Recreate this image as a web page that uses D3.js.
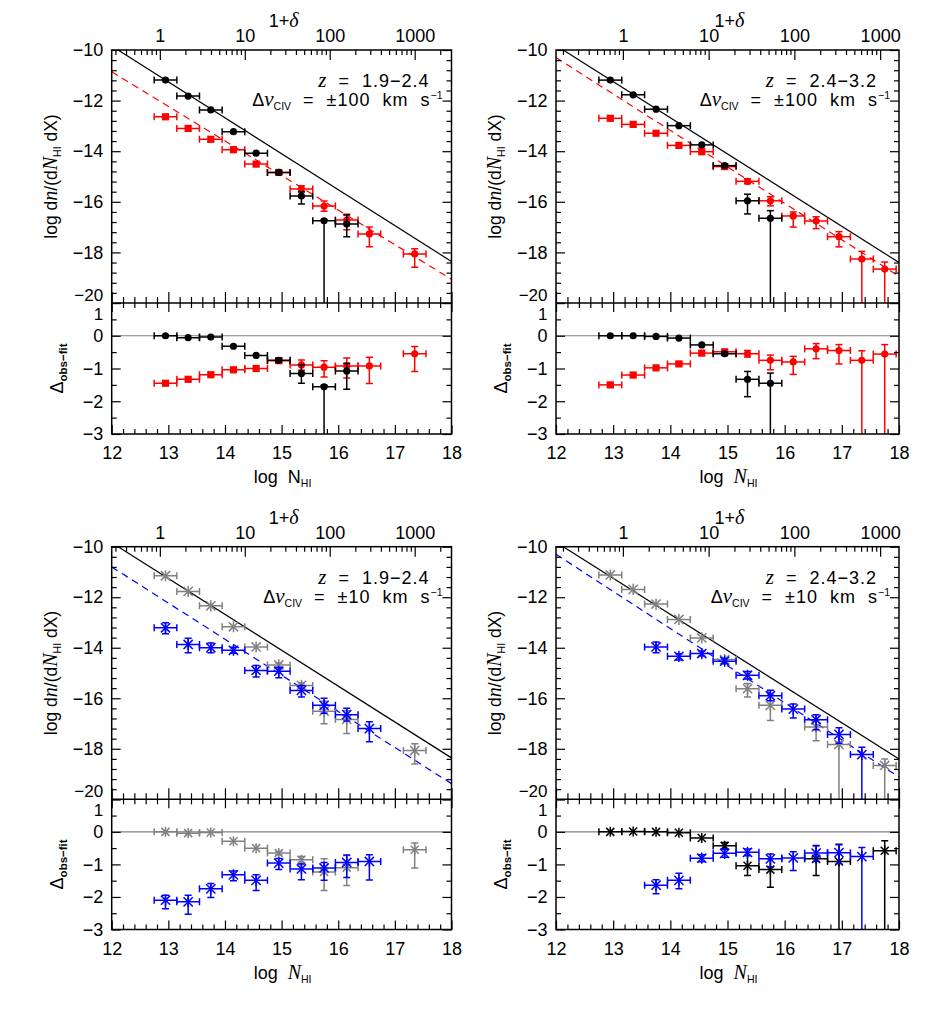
<!DOCTYPE html>
<html><head><meta charset="utf-8">
<script src="https://cdn.jsdelivr.net/npm/d3@7"></script>
<style>body{margin:0;background:#fff}svg{display:block}</style>
</head><body><svg id="c" width="926" height="1011"></svg>
<script>
// ---------- tick label arrays ----------
const xTicks = [12, 13, 14, 15, 16, 17, 18];
const deltaTicks = [1, 10, 100, 1000];
const mainYTicks = [-20, -18, -16, -14, -12, -10];
const residYTicks = [-3, -2, -1, 0, 1];

// ---------- fit lines: [value at log N = 12, slope] ----------
const fitLow = [-9.84, -1.42];      // z = 1.9-2.4 power law (solid)
const fitHigh = [-9.82, -1.43];     // z = 2.4-3.2 power law (solid)
const dashTL = [-10.86, -1.367];    // red dashed, ±100, z 1.9-2.4
const dashTR = [-10.30, -1.44];     // red dashed, ±100, z 2.4-3.2
const dashBL = [-10.80, -1.43];     // blue dashed, ±10, z 1.9-2.4
const dashBR = [-10.30, -1.47];     // blue dashed, ±10, z 2.4-3.2
// 1+delta axis: log N = a + 1.5 log(1+delta)
const deltaZeroLow = 12.85, deltaZeroHigh = 13.17;

// ---------- data: [log N_HI, value, err up, err down] (9 = off the panel) ----------
const tlMainBlack = [[12.95,-11.19,0,0],[13.35,-11.82,0,0],[13.75,-12.37,0,0],[14.15,-13.23,0,0],[14.55,-14.08,0,0],[14.95,-14.84,0.06,0.06],[15.35,-15.77,0.17,0.32],[15.75,-16.75,0.05,9],[16.15,-16.88,0.36,0.5]];
const tlMainRed = [[12.95,-12.64,0,0],[13.35,-13.10,0,0],[13.75,-13.53,0,0],[14.15,-13.94,0,0],[14.55,-14.51,0,0],[14.95,-14.84,0.08,0.08],[15.35,-15.49,0.12,0.12],[15.75,-16.17,0.2,0.2],[16.15,-16.72,0.23,0.38],[16.55,-17.27,0.27,0.51],[17.35,-18.06,0.2,0.53]];
const tlResBlack = [[12.95,0,0,0],[13.35,-0.06,0,0],[13.75,-0.04,0,0],[14.15,-0.32,0,0],[14.55,-0.6,0,0],[14.95,-0.75,0.06,0.06],[15.35,-1.15,0.26,0.3],[15.75,-1.56,0.05,9],[16.15,-1.08,0.24,0.55]];
const tlResRed = [[12.95,-1.45,0.04,0.04],[13.35,-1.33,0,0],[13.75,-1.19,0,0],[14.15,-1.04,0,0],[14.55,-1.0,0,0],[14.95,-0.76,0.08,0.08],[15.35,-0.89,0.15,0.16],[15.75,-0.96,0.2,0.3],[16.15,-0.92,0.24,0.37],[16.55,-0.92,0.26,0.54],[17.35,-0.55,0.22,0.54]];

const trMainBlack = [[12.95,-11.19,0,0],[13.35,-11.77,0,0],[13.75,-12.34,0,0],[14.15,-12.99,0,0],[14.55,-13.75,0,0],[14.95,-14.57,0.06,0.06],[15.35,-15.96,0.26,0.52],[15.75,-16.65,0.3,9]];
const trMainRed = [[12.95,-12.70,0,0],[13.35,-12.94,0,0],[13.75,-13.29,0,0],[14.15,-13.77,0,0],[14.55,-14.02,0,0],[14.95,-14.61,0.05,0.05],[15.35,-15.19,0.1,0.1],[15.75,-15.96,0.16,0.2],[16.15,-16.56,0.16,0.44],[16.55,-16.76,0.17,0.3],[16.95,-17.38,0.2,0.4],[17.35,-18.26,0.3,9],[17.75,-18.66,0.28,9]];
const trResBlack = [[12.95,0,0,0],[13.35,0,0,0],[13.75,-0.02,0,0],[14.15,-0.07,0,0],[14.55,-0.28,0,0],[14.95,-0.55,0.05,0.05],[15.35,-1.33,0.24,0.53],[15.75,-1.45,0.31,9]];
const trResRed = [[12.95,-1.5,0.05,0.05],[13.35,-1.2,0,0],[13.75,-0.98,0,0],[14.15,-0.86,0.05,0.05],[14.55,-0.53,0,0],[14.95,-0.49,0.06,0.06],[15.35,-0.55,0.1,0.1],[15.75,-0.75,0.16,0.29],[16.15,-0.8,0.17,0.38],[16.55,-0.4,0.16,0.3],[16.95,-0.45,0.18,0.41],[17.35,-0.75,0.29,9],[17.75,-0.56,0.29,9]];

const blMainGray = [[12.95,-11.15,0,0],[13.35,-11.77,0,0],[13.75,-12.34,0,0],[14.15,-13.17,0,0],[14.55,-13.97,0,0],[14.95,-14.68,0.08,0.08],[15.35,-15.49,0.1,0.1],[15.75,-16.51,0.39,0.5],[16.15,-16.84,0.35,0.56],[17.35,-18.07,0.27,0.53]];
const blMainBlue = [[12.95,-13.21,0.2,0.24],[13.35,-13.87,0.25,0.33],[13.75,-14.0,0.19,0.2],[14.15,-14.1,0.12,0.12],[14.55,-14.9,0.2,0.26],[14.95,-14.93,0.14,0.26],[15.35,-15.69,0.2,0.26],[15.75,-16.28,0.28,0.31],[16.15,-16.65,0.25,0.25],[16.55,-17.2,0.27,0.52]];
const blResGray = [[12.95,0,0,0],[13.35,-0.04,0,0],[13.75,-0.02,0,0],[14.15,-0.29,0,0],[14.55,-0.5,0,0],[14.95,-0.65,0.05,0.05],[15.35,-0.86,0.1,0.1],[15.75,-1.23,0.4,0.57],[16.15,-1.1,0.37,0.55],[17.35,-0.55,0.21,0.56]];
const blResBlue = [[12.95,-2.1,0.15,0.26],[13.35,-2.15,0.2,0.38],[13.75,-1.75,0.16,0.27],[14.15,-1.32,0.12,0.18],[14.55,-1.49,0.17,0.31],[14.95,-0.96,0.14,0.2],[15.35,-1.14,0.15,0.33],[15.75,-1.11,0.17,0.38],[16.15,-0.94,0.23,0.46],[16.55,-0.91,0.21,0.57]];

const brMainGray = [[12.95,-11.12,0,0],[13.35,-11.69,0,0],[13.75,-12.27,0,0],[14.15,-12.88,0,0],[14.55,-13.61,0,0],[14.95,-14.47,0.05,0.05],[15.35,-15.62,0.2,0.33],[15.75,-16.28,0.42,0.6],[16.55,-17.14,0.26,0.54],[16.95,-17.83,0.1,9],[17.75,-18.66,0.26,9]];
const brMainBlue = [[13.75,-13.97,0.2,0.23],[14.15,-14.34,0.1,0.15],[14.55,-14.23,0.1,0.1],[14.95,-14.53,0.1,0.1],[15.35,-15.09,0.15,0.15],[15.75,-15.9,0.22,0.2],[16.15,-16.43,0.2,0.35],[16.55,-16.85,0.2,0.4],[16.95,-17.43,0.26,0.35],[17.35,-18.23,0.29,9]];
const brResBlack = [[12.95,0,0,0],[13.35,0.01,0,0],[13.75,0,0,0],[14.15,-0.03,0,0],[14.55,-0.19,0,0],[14.95,-0.43,0.1,0.1],[15.35,-1.04,0.31,0.3],[15.75,-1.16,0.33,0.54],[16.55,-0.83,0.41,0.51],[16.95,-0.91,0.53,9],[17.75,-0.58,0.31,9]];
const brResBlue = [[13.75,-1.64,0.17,0.26],[14.15,-1.49,0.22,0.26],[14.55,-0.81,0.11,0.11],[14.95,-0.66,0.13,0.12],[15.35,-0.63,0.1,0.1],[15.75,-0.83,0.15,0.24],[16.15,-0.8,0.19,0.39],[16.55,-0.65,0.22,0.26],[16.95,-0.64,0.24,0.33],[17.35,-0.76,0.28,9]];

// ---------- drawing ----------
const SANS = '"Liberation Sans", Arial, Helvetica, sans-serif';
const SERIF = '"Liberation Serif", "DejaVu Serif", serif';
const RED = "#ff0000", BLUE = "#0000ff", GRAY = "#808080", BLACK = "#000000";
const FS = 18;
const svg = d3.select("#c");
const defs = svg.append("defs");
const fmtInt = d3.format("d");

function drawSeries(g, x, y, s) {
  const lw = 1.5, cap = 3.5;
  s.data.forEach(d => {
    const gg = g.append("g").attr("stroke", s.color).attr("stroke-width", lw);
    const cx = x(d[0]), cy = y(d[1]);
    const xa = x(d[0] - 0.2), xb = x(d[0] + 0.2);
    gg.append("line").attr("x1", xa).attr("x2", xb).attr("y1", cy).attr("y2", cy);
    gg.append("line").attr("x1", xa).attr("x2", xa).attr("y1", cy - cap).attr("y2", cy + cap);
    gg.append("line").attr("x1", xb).attr("x2", xb).attr("y1", cy - cap).attr("y2", cy + cap);
    if (d[2] > 0 || d[3] > 0) {
      const yt = y(d[1] + d[2]), yb = y(d[1] - d[3]);
      gg.append("line").attr("x1", cx).attr("x2", cx).attr("y1", yt).attr("y2", yb);
      if (d[2] > 0) gg.append("line").attr("x1", cx - cap).attr("x2", cx + cap).attr("y1", yt).attr("y2", yt);
      if (d[3] > 0 && d[3] < 5) gg.append("line").attr("x1", cx - cap).attr("x2", cx + cap).attr("y1", yb).attr("y2", yb);
    }
    let m = s.marker;
    if (m === "mixed") m = d[0] < 15.2 ? "square" : "circle";
    const r = s.size || 3.6;
    if (m === "circle") {
      g.append("circle").attr("cx", cx).attr("cy", cy).attr("r", r).attr("fill", s.color);
    } else if (m === "square") {
      g.append("rect").attr("x", cx - r).attr("y", cy - r).attr("width", 2 * r).attr("height", 2 * r).attr("fill", s.color);
    } else {
      const q = r + 1;
      const st = g.append("g").attr("stroke", s.color).attr("stroke-width", 1.5);
      st.append("line").attr("x1", cx - q).attr("x2", cx + q).attr("y1", cy - q).attr("y2", cy + q);
      st.append("line").attr("x1", cx - q).attr("x2", cx + q).attr("y1", cy + q).attr("y2", cy - q);
      st.append("line").attr("x1", cx).attr("x2", cx).attr("y1", cy - q - 1).attr("y2", cy + q + 1);
    }
  });
}

function axis(gp, gen, vals, size, tx, ty, fmt, pad) {
  gen.tickValues(vals).tickSize(-size).tickSizeOuter(0).tickPadding(pad || 0).tickFormat(fmt || (() => ""));
  const gg = gp.append("g").attr("transform", `translate(${tx},${ty})`).call(gen);
  gg.select(".domain").remove();
  gg.selectAll("line").attr("stroke", "#000").attr("stroke-width", 1.2);
  gg.attr("font-family", SANS).attr("font-size", FS);
  gg.selectAll("text").attr("fill", "#000");
  return gg;
}

function panel(P) {
  const g = svg.append("g");
  const x = d3.scaleLinear().domain([12, 18]).range([P.x0, P.x1]);
  const yM = d3.scaleLinear().domain([-20, -10]).range([P.yMid, P.yTop]);
  const yR = d3.scaleLinear().domain([-3, 1]).range([P.yBot, P.yMid]);
  defs.append("clipPath").attr("id", P.id + "m").append("rect")
    .attr("x", P.x0).attr("y", P.yTop).attr("width", P.x1 - P.x0).attr("height", P.yMid - P.yTop);
  defs.append("clipPath").attr("id", P.id + "r").append("rect")
    .attr("x", P.x0).attr("y", P.yMid).attr("width", P.x1 - P.x0).attr("height", P.yBot - P.yMid);
  const gm = g.append("g").attr("clip-path", `url(#${P.id}m)`);
  const gr = g.append("g").attr("clip-path", `url(#${P.id}r)`);

  const lineM = d3.line().x(d => x(d[0])).y(d => yM(d[1]));
  const lineR = d3.line().x(d => x(d[0])).y(d => yR(d[1]));
  const ends = d3.extent(xTicks);
  gm.append("path").attr("d", lineM(ends.map(n => [n, P.fit[0] + P.fit[1] * (n - 12)])))
    .attr("fill", "none").attr("stroke", "#000").attr("stroke-width", 1.2);
  gm.append("path").attr("d", lineM(ends.map(n => [n, P.dash[0] + P.dash[1] * (n - 12)])))
    .attr("fill", "none").attr("stroke", P.dashColor).attr("stroke-width", 1.2).attr("stroke-dasharray", "7,5");
  gr.append("path").attr("d", lineR(ends.map(n => [n, 0])))
    .attr("fill", "none").attr("stroke", "#808080").attr("stroke-width", 1.2);

  P.main.forEach(s => drawSeries(gm, x, yM, s));
  P.resid.forEach(s => drawSeries(gr, x, yR, s));

  // frames
  g.append("rect").attr("x", P.x0).attr("y", P.yTop).attr("width", P.x1 - P.x0).attr("height", P.yBot - P.yTop)
    .attr("fill", "none").attr("stroke", "#000").attr("stroke-width", 1.5);
  g.append("line").attr("x1", P.x0).attr("x2", P.x1).attr("y1", P.yMid).attr("y2", P.yMid)
    .attr("stroke", "#000").attr("stroke-width", 1.5);

  // ticks
  const xMinor = d3.range(12, 18.001, 0.2).filter(v => Math.abs(v - Math.round(v)) > 0.01);
  const yMinorM = d3.range(-20, -9.99, 0.4).filter(v => Math.abs(v / 2 - Math.round(v / 2)) > 0.01);
  const yMinorR = [-2.5, -1.5, -0.5, 0.5];
  axis(g, d3.axisBottom(x), xTicks, 11, 0, P.yMid);
  axis(g, d3.axisBottom(x), xMinor, 6, 0, P.yMid);
  axis(g, d3.axisTop(x), xTicks, 9, 0, P.yMid);
  axis(g, d3.axisTop(x), xMinor, 5, 0, P.yMid);
  axis(g, d3.axisBottom(x), xTicks, 9, 0, P.yBot, fmtInt, 12.5);
  axis(g, d3.axisBottom(x), xMinor, 5, 0, P.yBot);
  const my = axis(g, d3.axisLeft(yM), mainYTicks, 9, P.x0, 0, fmtInt, 8.5);
  my.selectAll("text").filter(d => d === -20).attr("dy", "-0.15em").attr("font-size", 17);
  axis(g, d3.axisLeft(yM), yMinorM, 5, P.x0, 0);
  axis(g, d3.axisRight(yM), mainYTicks, 9, P.x1, 0);
  axis(g, d3.axisRight(yM), yMinorM, 5, P.x1, 0);
  const ry = axis(g, d3.axisLeft(yR), residYTicks, 9, P.x0, 0, fmtInt, 8.5);
  ry.selectAll("text").filter(d => d === 1).attr("dy", "0.97em").attr("font-size", 17);
  axis(g, d3.axisLeft(yR), yMinorR, 5, P.x0, 0);
  axis(g, d3.axisRight(yR), residYTicks, 9, P.x1, 0);
  axis(g, d3.axisRight(yR), yMinorR, 5, P.x1, 0);

  // 1+delta top axis
  const dS = d3.scaleLog().domain([Math.pow(10, (12 - P.dz) / 1.5), Math.pow(10, (18 - P.dz) / 1.5)]).range([P.x0, P.x1]);
  const dom = dS.domain();
  const dMinor = [];
  [0.1, 1, 10, 100, 1000].forEach(dec => d3.range(2, 10).forEach(m => {
    const v = m * dec; if (v >= dom[0] && v <= dom[1]) dMinor.push(v);
  }));
  axis(g, d3.axisTop(dS), deltaTicks, 10, 0, P.yTop, fmtInt, 8);
  axis(g, d3.axisTop(dS), dMinor, 5, 0, P.yTop);

  const xc = (P.x0 + P.x1) / 2;
  // top title
  const tt = g.append("text").attr("x", xc + 2).attr("y", P.yTop - 23).attr("text-anchor", "middle")
    .attr("font-family", SANS).attr("font-size", FS);
  tt.append("tspan").text("1+");
  tt.append("tspan").attr("font-family", SERIF).attr("font-style", "italic").attr("font-size", 20).text("δ");

  // bottom title
  const bt = g.append("text").attr("x", xc + 1).attr("y", P.yBot + 49).attr("text-anchor", "middle")
    .attr("font-family", SANS).attr("font-size", FS).attr("xml:space", "preserve");
  bt.append("tspan").text("log  ");
  if (P.romanN) bt.append("tspan").text("N");
  else bt.append("tspan").attr("font-family", SERIF).attr("font-style", "italic").attr("font-size", 20).text("N");
  bt.append("tspan").attr("font-size", 10.5).attr("dy", 4).text("HI");

  // y titles
  const yl = g.append("text").attr("transform", `translate(${P.x0 - 55},${(P.yTop + P.yMid) / 2}) rotate(-90)`)
    .attr("text-anchor", "middle").attr("font-family", SANS).attr("font-size", 17.5).attr("xml:space", "preserve");
  yl.append("tspan").text("log d");
  yl.append("tspan").attr("font-family", SERIF).attr("font-style", "italic").attr("font-size", 20).text("n");
  yl.append("tspan").text("/(d");
  yl.append("tspan").attr("font-family", SERIF).attr("font-style", "italic").attr("font-size", 20).text("N");
  yl.append("tspan").attr("font-size", 10.5).attr("dy", 4).text("HI");
  yl.append("tspan").attr("dy", -4).text(" dX)");

  const rl = g.append("text").attr("transform", `translate(${P.x0 - 49},${(P.yMid + P.yBot) / 2}) rotate(-90)`)
    .attr("text-anchor", "middle").attr("font-family", SANS).attr("font-size", 18);
  rl.append("tspan").text("Δ");
  rl.append("tspan").attr("font-size", 11.5).attr("font-weight", "bold").attr("dy", 4).text("obs−fit");

  // annotation
  const a1 = g.append("text").attr("x", P.x1 - 22).attr("y", P.yTop + 37).attr("text-anchor", "end")
    .attr("font-family", SANS).attr("font-size", FS).attr("xml:space", "preserve");
  a1.append("tspan").attr("font-family", SERIF).attr("font-style", "italic").attr("font-size", 21).text("z");
  a1.append("tspan").attr("letter-spacing", 1).text("  =  " + P.zText);
  const a2 = g.append("text").attr("x", P.x1 - 9).attr("y", P.yTop + 56).attr("text-anchor", "end")
    .attr("font-family", SANS).attr("font-size", FS).attr("xml:space", "preserve");
  a2.append("tspan").text("Δ");
  a2.append("tspan").attr("font-family", SERIF).attr("font-style", "italic").attr("font-size", 21).text("v");
  a2.append("tspan").attr("font-size", 10.5).attr("dy", 4).text("CIV");
  a2.append("tspan").attr("dy", -4).attr("letter-spacing", 1).text("  =  ±" + P.dvText + "  km  s");
  a2.append("tspan").attr("font-size", 10.5).attr("dy", -7).text("−1");
}

const L = { x0: 111.7, x1: 451.5 }, R = { x0: 556, x1: 899 };
const T = { yTop: 50, yMid: 303, yBot: 434 }, B = { yTop: 546.7, yMid: 799.3, yBot: 929.5 };

panel(Object.assign({ id: "tl", fit: fitLow, dash: dashTL, dashColor: RED, dz: deltaZeroLow, zText: "1.9−2.4", dvText: "100", romanN: true,
  main: [{ data: tlMainRed, color: RED, marker: "mixed" }, { data: tlMainBlack, color: BLACK, marker: "circle" }],
  resid: [{ data: tlResRed, color: RED, marker: "mixed" }, { data: tlResBlack, color: BLACK, marker: "circle" }] }, L, T));
panel(Object.assign({ id: "tr", fit: fitHigh, dash: dashTR, dashColor: RED, dz: deltaZeroHigh, zText: "2.4−3.2", dvText: "100",
  main: [{ data: trMainRed, color: RED, marker: "mixed" }, { data: trMainBlack, color: BLACK, marker: "circle" }],
  resid: [{ data: trResRed, color: RED, marker: "mixed" }, { data: trResBlack, color: BLACK, marker: "circle" }] }, R, T));
panel(Object.assign({ id: "bl", fit: fitLow, dash: dashBL, dashColor: BLUE, dz: deltaZeroLow, zText: "1.9−2.4", dvText: "10",
  main: [{ data: blMainGray, color: GRAY, marker: "star" }, { data: blMainBlue, color: BLUE, marker: "star" }],
  resid: [{ data: blResGray, color: GRAY, marker: "star", size: 3 }, { data: blResBlue, color: BLUE, marker: "star" }] }, L, B));
panel(Object.assign({ id: "br", fit: fitHigh, dash: dashBR, dashColor: BLUE, dz: deltaZeroHigh, zText: "2.4−3.2", dvText: "10",
  main: [{ data: brMainGray, color: GRAY, marker: "star" }, { data: brMainBlue, color: BLUE, marker: "star" }],
  resid: [{ data: brResBlack, color: BLACK, marker: "star", size: 3 }, { data: brResBlue, color: BLUE, marker: "star" }] }, R, B));
</script></body></html>
